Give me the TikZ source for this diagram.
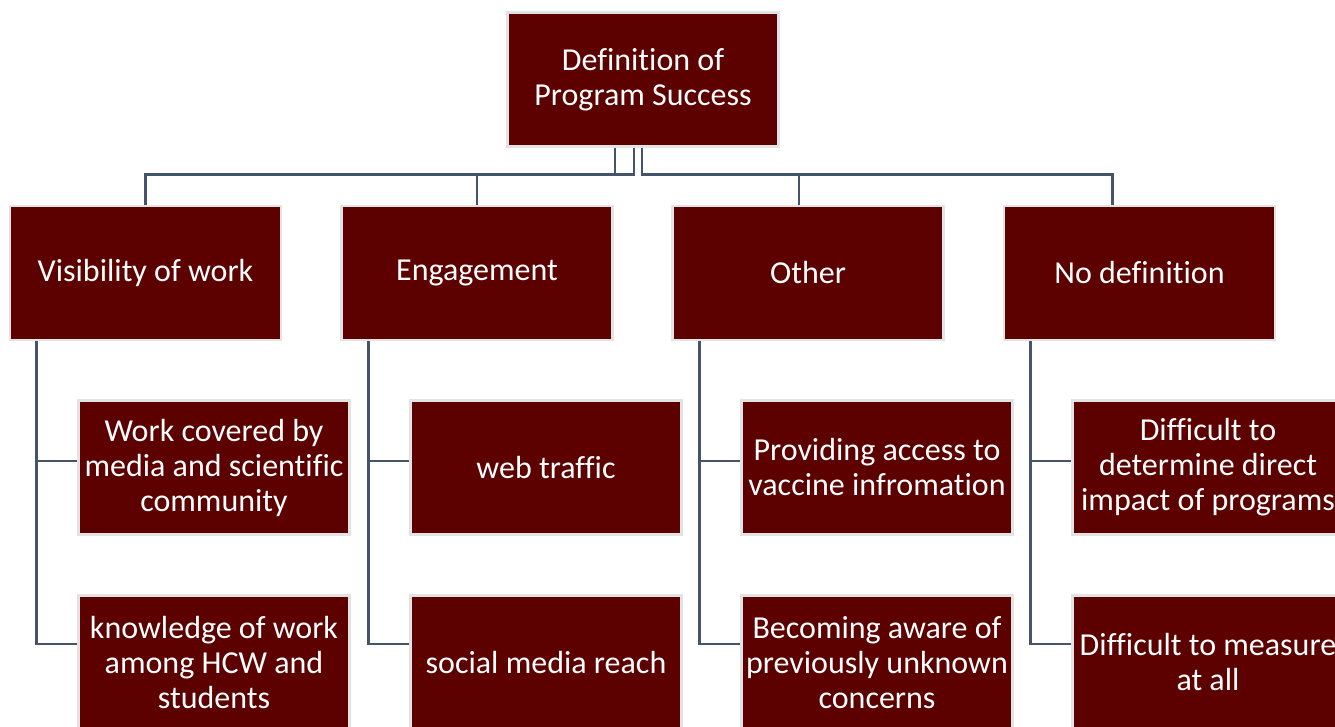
\documentclass[tikz,border=0pt]{standalone}
\usepackage{fontspec}
\setmainfont[Ligatures=CommonOff]{Carlito}
\usepackage{xcolor}
\usetikzlibrary{positioning, calc}

\definecolor{boxred}{HTML}{5C0000}
\definecolor{boxedge}{HTML}{E3E3E3}
\definecolor{linkgray}{HTML}{44546A}

\tikzset{
  catbox/.style={draw=boxedge, fill=boxred, line width=2.5pt, text=white,
    minimum width=271pt, minimum height=134pt, align=center, inner sep=2pt,
    font=\fontsize{32}{35}\selectfont},
  link/.style={draw=linkgray, line width=2.6pt}
}

\begin{document}
\begin{tikzpicture}[x=1pt, y=-1pt]
\useasboundingbox (0,0) rectangle (1335,727);
\clip (0,0) rectangle (1335,727);

% Root
\node[catbox] (root) at (643,79.5) {Definition of\\Program Success};

% Categories
\node[catbox] (vis) at (145.5,273) {Visibility of work};
\node[catbox] (eng) at (477,273) {Engagement};
\node[catbox] (oth) at (808,273) {Other};
\node[catbox] (nod) at (1139.5,273) {No definition};

% Items
\node[catbox] (vis1) at (214,467.5) {Work covered by\\media and scientific\\community};
\node[catbox] (vis2) at (214,662.5) {knowledge of work\\among HCW and\\students};
\node[catbox] (eng1) at (546,467.5) {web traffic};
\node[catbox] (eng2) at (546,662.5) {social media reach};
\node[catbox] (oth1) at (877,467.5) {Providing access to\\vaccine infromation};
\node[catbox] (oth2) at (877,662.5) {Becoming aware of\\previously unknown\\concerns};
\node[catbox] (nod1) at (1208,467.5) {Difficult to\\determine direct\\impact of programs};
\node[catbox] (nod2) at (1208,662.5) {Difficult to measure\\at all};

% Root to categories
\draw[link] ([xshift=-28pt]root.south) -- ++(0,27) -| (vis.north);
\draw[link] ([xshift=-9pt]root.south) -- ++(0,27) -| (eng.north);
\draw[link] ([xshift=-1pt]root.south) -- ++(0,27) -| ([xshift=-9pt]oth.north);
\draw[link] ([xshift=-1pt]root.south) -- ++(0,27) -| ([xshift=-27pt]nod.north);

% Categories to items
\foreach \c in {vis, eng, oth, nod} {
  \coordinate (\c top) at ([xshift=28pt]\c.south west);
  \draw[link] (\c top) |- ([yshift=6.5pt]\c1.west);
  \draw[link] (\c top) |- ([yshift=18.5pt]\c2.west);
}

\end{tikzpicture}
\end{document}
